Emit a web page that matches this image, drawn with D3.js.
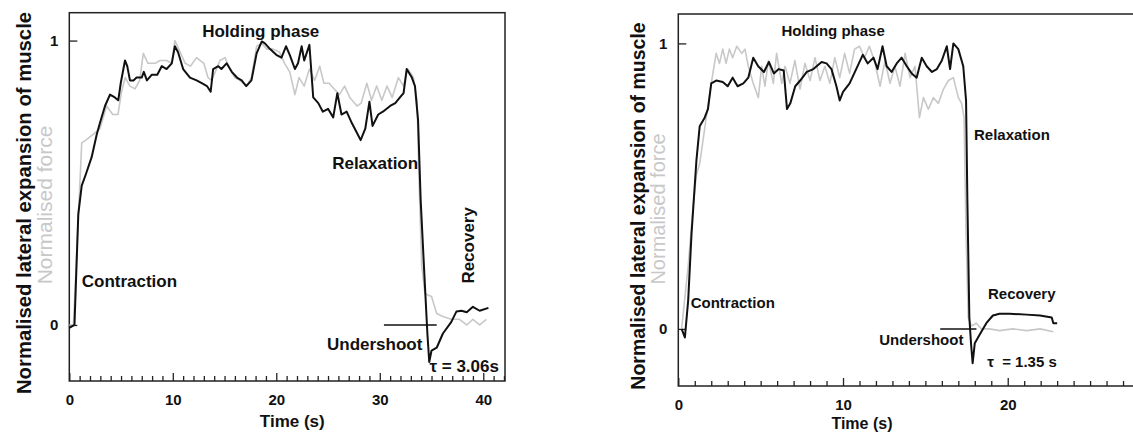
<!DOCTYPE html>
<html>
<head>
<meta charset="utf-8">
<script src="https://cdn.jsdelivr.net/npm/d3@7"></script>
<style>
  body { margin: 0; background: #fff; }
  text { font-family: "Liberation Sans", Arial, sans-serif; }
</style>
</head>
<body>
<div id="chart"></div>
<script>

// [time (s), normalised value]
var leftExpansion = [[0,-0.01],[0.5,0],[0.87,0.39],[1.2,0.49],[1.6,0.53],[2.16,0.59],[2.65,0.67],[2.96,0.71],[3.45,0.77],
  [3.93,0.81],[4.4,0.8],[4.73,0.79],[4.97,0.85],[5.38,0.93],[5.6,0.91],[5.86,0.86],[6.2,0.86],[6.5,0.87],[7.0,0.87],
  [7.2,0.89],[7.5,0.86],[7.98,0.88],[8.5,0.88],[8.93,0.91],[9.4,0.9],[9.9,0.92],[10.2,0.98],[10.5,0.96],[11.0,0.9],
  [11.66,0.87],[12.3,0.86],[12.8,0.85],[13.3,0.84],[13.66,0.82],[13.9,0.9],[14.4,0.91],[14.7,0.9],[15.2,0.92],[15.7,0.89],
  [16.2,0.87],[16.65,0.86],[17.1,0.84],[17.6,0.86],[18.1,0.955],[18.6,0.997],[18.9,0.99],[19.4,0.97],[20.0,0.95],
  [20.5,0.94],[20.94,0.98],[21.3,0.95],[21.8,0.9],[22.1,0.92],[22.45,0.98],[22.7,0.93],[23.2,0.985],[23.4,0.885],
  [23.57,0.8],[24.06,0.78],[24.5,0.75],[25.0,0.76],[25.5,0.73],[25.9,0.815],[26.3,0.74],[26.8,0.75],[27.3,0.71],
  [27.8,0.675],[28.15,0.65],[28.6,0.69],[29.0,0.785],[29.3,0.7],[29.85,0.74],[30.3,0.75],[31.0,0.77],[31.5,0.78],
  [31.95,0.8],[32.3,0.815],[32.6,0.9],[33.1,0.87],[33.4,0.84],[33.7,0.72],[33.95,0.44],[34.27,0.205],[34.6,-0.03],
  [34.78,-0.13],[35.0,-0.09],[35.5,-0.08],[36.1,-0.03],[36.9,0.01],[37.4,0.047],[37.9,0.05],[38.4,0.045],[39.0,0.064],
  [39.65,0.05],[40.5,0.06]];

var leftForce = [[0,0],[0.4,0],[1.2,0.64],[1.6,0.65],[2.3,0.67],[2.96,0.69],[3.6,0.77],[4.2,0.74],[4.7,0.74],[5.05,0.82],
  [5.4,0.87],[5.86,0.84],[6.35,0.83],[6.8,0.86],[7.15,0.955],[7.6,0.92],[8.3,0.92],[8.76,0.93],[9.4,0.93],[9.9,0.92],
  [10.2,1.0],[10.7,0.96],[11.2,0.92],[11.7,0.91],[12.3,0.94],[13.0,0.92],[13.4,0.87],[13.75,0.86],[14.1,0.89],
  [14.56,0.93],[15.05,0.94],[15.5,0.9],[16.0,0.87],[16.5,0.86],[17.1,0.84],[17.6,0.87],[18.1,0.98],[18.6,0.99],
  [19.1,0.97],[19.7,0.97],[20.3,0.96],[20.8,0.92],[21.3,0.89],[21.8,0.81],[22.2,0.87],[22.7,0.84],[23.2,0.9],
  [23.7,0.86],[24.2,0.91],[24.6,0.85],[25.1,0.85],[25.6,0.83],[26.1,0.81],[26.6,0.84],[27.1,0.8],[27.8,0.77],
  [28.2,0.78],[28.75,0.85],[29.2,0.79],[29.7,0.84],[30.2,0.79],[30.7,0.84],[31.2,0.8],[31.8,0.87],[32.3,0.84],
  [32.7,0.9],[33.25,0.87],[33.6,0.79],[33.8,0.5],[34.05,0.21],[34.36,0.11],[35.0,0.1],[35.5,0.04],[36.1,0.03],
  [36.9,0.02],[37.7,0.02],[38.4,0.0],[39.0,0.02],[39.65,0.0],[40.3,0.02]];

var rightExpansion = [[0.2,0],[0.4,-0.03],[0.6,0.1],[0.8,0.33],[1.1,0.59],[1.3,0.71],[1.6,0.74],[1.8,0.77],[2.0,0.86],
  [2.3,0.87],[2.7,0.865],[3.0,0.85],[3.3,0.88],[3.6,0.85],[3.95,0.86],[4.25,0.88],[4.55,0.95],[4.85,0.92],[5.2,0.9],
  [5.5,0.935],[5.8,0.895],[6.1,0.91],[6.4,0.905],[6.6,0.77],[6.8,0.79],[7.1,0.85],[7.4,0.87],[7.8,0.9],[8.2,0.91],
  [8.7,0.935],[9.0,0.93],[9.3,0.91],[9.6,0.85],[9.8,0.8],[10.0,0.83],[10.4,0.86],[10.8,0.91],[11.2,0.96],[11.5,0.93],
  [11.85,0.95],[12.1,0.91],[12.4,0.99],[12.65,0.92],[12.95,0.9],[13.26,0.93],[13.56,0.95],[13.87,0.92],[14.17,0.895],
  [14.47,0.88],[14.78,0.95],[15.08,0.92],[15.4,0.9],[15.7,0.91],[16.0,0.94],[16.3,0.99],[16.5,0.91],[16.7,1.0],
  [17.0,0.98],[17.3,0.92],[17.47,0.8],[17.55,0.45],[17.67,0.04],[17.77,-0.05],[17.87,-0.12],[18.0,-0.05],[18.3,-0.02],
  [18.7,0.02],[19.1,0.047],[19.5,0.053],[20.1,0.053],[21.15,0.05],[21.96,0.047],[22.67,0.04],[22.77,0.02],[23.0,0.02]];

var rightForce = [[0.2,0],[0.6,0.22],[0.9,0.43],[1.1,0.54],[1.3,0.58],[1.5,0.66],[1.72,0.75],[2.0,0.86],[2.3,0.965],
  [2.5,0.93],[2.7,0.98],[2.9,0.93],[3.1,0.98],[3.3,0.95],[3.55,0.99],[3.85,0.965],[4.05,0.98],[4.25,0.92],[4.55,0.86],
  [4.86,0.81],[5.06,0.92],[5.26,0.85],[5.47,0.94],[5.77,0.86],[5.97,0.965],[6.28,0.86],[6.48,0.92],[6.78,0.86],
  [7.08,0.94],[7.39,0.84],[7.69,0.93],[8.0,0.87],[8.3,0.95],[8.6,0.87],[8.9,0.92],[9.2,0.86],[9.5,0.95],[9.8,0.88],
  [10.1,0.965],[10.4,0.895],[10.7,0.98],[11.0,0.99],[11.3,0.95],[11.6,0.99],[11.9,0.94],[12.25,0.85],[12.55,0.94],
  [12.85,0.86],[13.15,0.92],[13.46,0.85],[13.77,0.965],[14.07,0.88],[14.37,0.92],[14.64,0.74],[14.88,0.81],[15.18,0.77],
  [15.49,0.81],[15.79,0.79],[16.1,0.84],[16.4,0.87],[16.7,0.88],[17.0,0.81],[17.2,0.79],[17.35,0.74],[17.47,0.33],
  [17.6,0.04],[17.8,0.01],[18.1,0.02],[18.4,0],[18.9,0],[19.5,-0.006],[20.3,0],[21.15,-0.006],[21.96,0],[22.77,-0.01]];

var yTicks = [0, 1];
var leftMajor = [0, 10, 20, 30, 40];
var rightMajor = [0, 10, 20];
var yTitle = "Normalised lateral expansion of muscle";
var yTitle2 = "Normalised force";
var xTitle = "Time (s)";

var width = 1133, height = 433;

var svg = d3.select("#chart").append("svg")
  .attr("width", width)
  .attr("height", height);

function drawPanel(p) {
  var x = d3.scaleLinear().domain(p.xDomain).range([p.left, p.right]),
      y = d3.scaleLinear().domain(p.yDomain).range([p.bottom, p.top]);

  var g = svg.append("g");

  // frame
  g.append("rect")
    .attr("x", p.left).attr("y", p.top)
    .attr("width", p.right - p.left).attr("height", p.bottom - p.top)
    .attr("fill", "none").attr("stroke", "#222").attr("stroke-width", 1.5);

  // minor ticks every second
  var minor = d3.range(1, Math.floor(p.xDomain[1]) + 1).filter(function(d) { return d % 10 != 0; });
  g.append("g")
    .attr("transform", "translate(0," + p.bottom + ")")
    .call(d3.axisBottom(x).tickValues(minor).tickSize(-5).tickFormat(""))
    .call(function(a) { a.select(".domain").remove(); a.selectAll("line").attr("stroke", "#222").attr("stroke-width", 1.3); });

  var xa = g.append("g")
    .attr("transform", "translate(0," + p.bottom + ")")
    .call(d3.axisBottom(x).tickValues(p.major).tickSize(-8).tickPadding(p.xPad).tickFormat(d3.format("d")));
  xa.select(".domain").remove();
  xa.selectAll("line").attr("stroke", "#222").attr("stroke-width", 1.3);
  xa.selectAll("text").attr("fill", "#111").attr("font-size", p.tickFont).attr("font-weight", "bold")
    .attr("font-family", "Liberation Sans, Arial, sans-serif");

  var ya = g.append("g")
    .attr("transform", "translate(" + p.left + ",0)")
    .call(d3.axisLeft(y).tickValues(yTicks).tickSize(-8).tickPadding(11).tickFormat(d3.format("d")));
  ya.select(".domain").remove();
  ya.selectAll("line").attr("stroke", "#222").attr("stroke-width", 1.3);
  ya.selectAll("text").attr("fill", "#111").attr("font-size", p.tickFont).attr("font-weight", "bold")
    .attr("font-family", "Liberation Sans, Arial, sans-serif");

  g.append("text")
    .attr("x", (p.left + x(p.xTitleAt)) / 2 + p.xTitleShift).attr("y", p.xTitleY)
    .attr("text-anchor", "middle").attr("font-size", p.xTitleFont).attr("font-weight", "bold").attr("fill", "#111")
    .text(xTitle);

  g.append("text")
    .attr("transform", "translate(" + p.titleX + "," + p.titleY + ") rotate(-90)")
    .attr("text-anchor", "middle").attr("font-size", p.titleFont).attr("font-weight", "bold").attr("fill", "#111")
    .text(yTitle);

  g.append("text")
    .attr("transform", "translate(" + p.title2X + "," + p.title2Y + ") rotate(-90)")
    .attr("text-anchor", "middle").attr("font-size", p.title2Font).attr("fill", "#c8c8c8")
    .text(yTitle2);

  var line = d3.line()
    .x(function(d) { return x(d[0]); })
    .y(function(d) { return y(d[1]); });

  g.append("path").datum(p.force)
    .attr("d", line).attr("fill", "none").attr("stroke", "#c8c8c8").attr("stroke-width", 1.6)
    .attr("stroke-linejoin", "round");

  g.append("path").datum(p.expansion)
    .attr("d", line).attr("fill", "none").attr("stroke", "#111").attr("stroke-width", 2)
    .attr("stroke-linejoin", "round");

  // undershoot reference line
  g.append("line")
    .attr("x1", x(p.baseLine[0])).attr("x2", x(p.baseLine[1]))
    .attr("y1", y(0)).attr("y2", y(0))
    .attr("stroke", "#111").attr("stroke-width", 1.5);

  p.labels.forEach(function(l) {
    g.append("text")
      .attr("transform", "translate(" + x(l.t) + "," + y(l.v) + ")" + (l.rotate ? " rotate(-90)" : ""))
      .attr("text-anchor", l.anchor || "start")
      .attr("font-size", p.labelFont).attr("font-weight", "bold").attr("fill", "#111")
      .attr("xml:space", "preserve")
      .text(l.text);
  });
}

drawPanel({
  left: 69.3, right: 505, top: 12.7, bottom: 381,
  xDomain: [0, 42.1], yDomain: [-0.197, 1.098],
  major: leftMajor, xPad: 13, tickFont: 15,
  xTitleAt: 40, xTitleShift: 16, xTitleY: 427, xTitleFont: 17,
  titleX: 31, titleY: 203, titleFont: 20.3,
  title2X: 52, title2Y: 205, title2Font: 21,
  expansion: leftExpansion, force: leftForce,
  baseLine: [30.4, 35.5],
  labelFont: 17,
  labels: [
    {text: "Holding phase", t: 18.5, v: 1.012, anchor: "middle"},
    {text: "Contraction", t: 1.2, v: 0.135},
    {text: "Relaxation", t: 25.4, v: 0.55},
    {text: "Undershoot", t: 24.9, v: -0.087},
    {text: "\u03c4 = 3.06s", t: 34.8, v: -0.165},
    {text: "Recovery", t: 39.15, v: 0.28, rotate: true, anchor: "middle"}
  ]
});

drawPanel({
  left: 678.3, right: 1139.5, top: 14, bottom: 386,
  xDomain: [0, 28], yDomain: [-0.2, 1.103],
  major: rightMajor, xPad: 13, tickFont: 15,
  xTitleAt: 22.3, xTitleShift: 0, xTitleY: 429, xTitleFont: 16,
  titleX: 645, titleY: 206, titleFont: 19.5,
  title2X: 665, title2Y: 209, title2Font: 20,
  expansion: rightExpansion, force: rightForce,
  baseLine: [15.9, 18.1],
  labelFont: 15,
  labels: [
    {text: "Holding phase", t: 9.4, v: 1.025, anchor: "middle"},
    {text: "Contraction", t: 0.75, v: 0.072},
    {text: "Relaxation", t: 17.95, v: 0.66},
    {text: "Recovery", t: 18.8, v: 0.106},
    {text: "Undershoot", t: 12.2, v: -0.058},
    {text: "\u03c4  = 1.35 s", t: 18.75, v: -0.132}
  ]
});

</script>
</body>
</html>
